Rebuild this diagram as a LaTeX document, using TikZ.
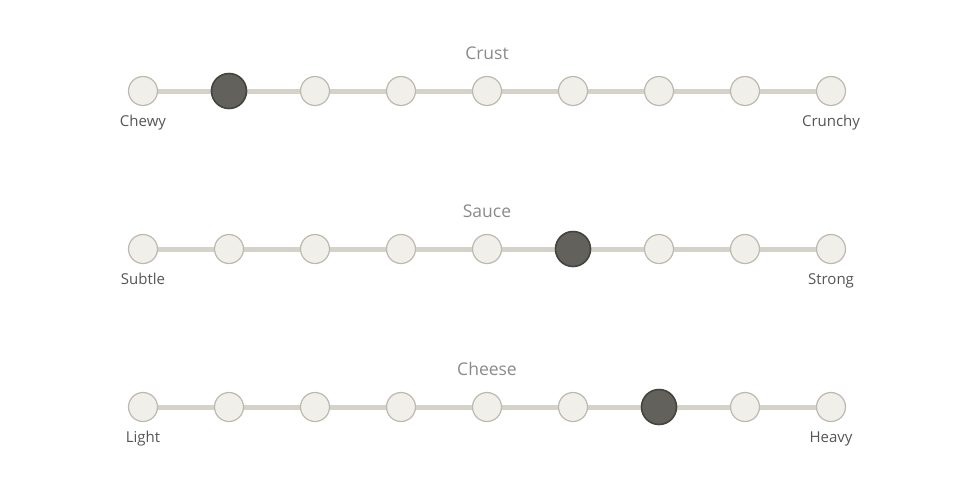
\documentclass[tikz,border=0pt]{standalone}
\usepackage{fontspec}
\setmainfont{Open Sans}
\definecolor{track}{HTML}{D5D2CA}
\definecolor{dotfill}{HTML}{F1EFE9}
\definecolor{dotline}{HTML}{BDB9B0}
\definecolor{selfill}{HTML}{62615C}
\definecolor{selline}{HTML}{44443F}
\definecolor{titlecol}{HTML}{8A8A8A}
\definecolor{labcol}{HTML}{555555}
\begin{document}
\begin{tikzpicture}[x=1pt,y=-1pt,
  trackline/.style={draw=track,line width=5pt},
  dot/.style={circle,draw=dotline,fill=dotfill,line width=1.2pt,minimum size=29pt,inner sep=0pt},
  seldot/.style={circle,draw=selline,fill=selfill,line width=1.6pt,minimum size=35pt,inner sep=0pt},
  ttl/.style={font=\fontsize{17.5}{19}\selectfont,text=titlecol,anchor=base,inner sep=0pt},
  lab/.style={font=\fontsize{15}{17}\selectfont,text=labcol,anchor=base,inner sep=0pt}]
\useasboundingbox (0,0) rectangle (975,488);
\foreach \row/\yy/\sel/\title/\left/\right in {a/91/2/Crust/Chewy/Crunchy, b/249/6/Sauce/Subtle/Strong, c/407/7/Cheese/Light/Heavy}{
  \coordinate (\row s) at (143,\yy);
  \coordinate (\row e) at (831,\yy);
  \draw[trackline] (\row s) -- (\row e);
  \foreach \i in {1,...,9}{
    \ifnum\i=\sel
      \node[seldot] (\row\i) at ({143+86*(\i-1)},\yy) {};
    \else
      \node[dot] (\row\i) at ({143+86*(\i-1)},\yy) {};
    \fi
  }
  \node[ttl] (\row t) at (487,\yy-32) {\title};
  \node[lab] (\row l) at (143,\yy+35) {\left};
  \node[lab] (\row r) at (831,\yy+35) {\right};
}
\end{tikzpicture}
\end{document}
